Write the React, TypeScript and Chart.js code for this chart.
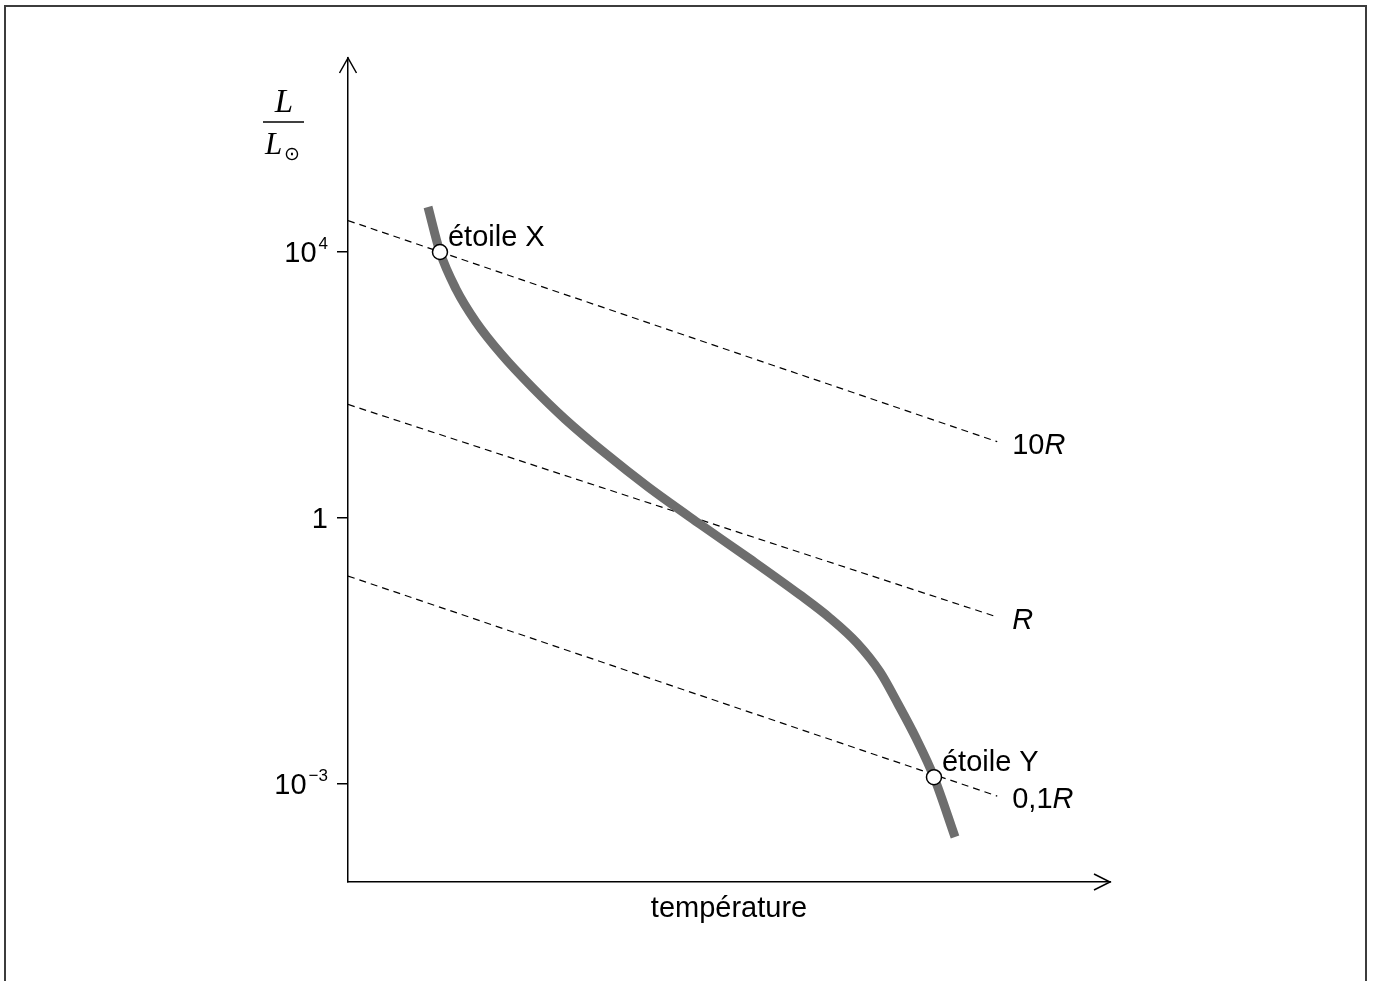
import React, { useEffect, useRef } from 'react';
import { Chart, registerables } from 'chart.js';

Chart.register(...registerables);

// Main-sequence-like curve (x: temperature, arbitrary units; y: schematic luminosity position)
const curveX = [1.05, 1.207, 1.417, 1.68, 2.021, 2.415, 2.848, 3.373, 3.937, 4.619, 5.276, 5.932, 6.325, 6.68, 6.982, 7.218, 7.454, 7.69, 7.966];
const curveY = [1.169, 1.0, 0.861, 0.737, 0.613, 0.492, 0.372, 0.244, 0.117, -0.023, -0.154, -0.289, -0.376, -0.47, -0.579, -0.699, -0.827, -0.974, -1.199];

// Constant-radius lines
const linePrefix = ['10', '', '0,1'];
const lineSuffix = ['R', 'R', 'R'];
const lineStartX = [0, 0, 0];
const lineStartY = [1.118, 0.427, -0.218];
const lineEndX = [8.52, 8.52, 8.52];
const lineEndY = [0.287, -0.372, -1.045];

// Stars
const starLabels = ['étoile X', 'étoile Y'];
const starX = [1.207, 7.69];
const starY = [1.0, -0.974];

// Y-axis ticks (schematic positions)
const yTickValues = [-1, 0, 1];
const yTickBase = ['10', '1', '10'];
const yTickExp = ['−3', '', '4'];

const xTitle = 'température';

const SANS = '"Liberation Sans", Arial, sans-serif';
const SERIF = '"Liberation Serif", "DejaVu Serif", serif';

const annotatePlugin = {
  id: 'annotate',
  afterDraw(chart: any) {
    const ctx: CanvasRenderingContext2D = chart.ctx;
    const xs = chart.scales.x;
    const ys = chart.scales.y;
    const { left, right, top, bottom } = chart.chartArea;
    ctx.save();

    // arrow heads
    ctx.strokeStyle = '#000';
    ctx.lineWidth = 1.5;
    ctx.beginPath();
    ctx.moveTo(left - 8.5, top + 15);
    ctx.lineTo(left, top);
    ctx.lineTo(left + 8.5, top + 15);
    ctx.moveTo(right - 16, bottom - 8);
    ctx.lineTo(right, bottom);
    ctx.lineTo(right - 16, bottom + 8);
    ctx.stroke();

    ctx.fillStyle = '#000';
    ctx.textBaseline = 'alphabetic';

    // y tick labels with superscripts
    const labelRight = left - 20;
    yTickValues.forEach((v, i) => {
      const py = ys.getPixelForValue(v);
      ctx.font = `17px ${SANS}`;
      const exp = yTickExp[i];
      const wExp = exp ? ctx.measureText(exp).width : 0;
      ctx.textAlign = 'right';
      if (exp) ctx.fillText(exp, labelRight, py - 3);
      ctx.font = `29px ${SANS}`;
      ctx.fillText(yTickBase[i], labelRight - (exp ? wExp + 2 : 0), py + 10);
    });

    // y axis title: L / L_sun
    ctx.textAlign = 'center';
    ctx.font = `italic 33px ${SERIF}`;
    ctx.fillText('L', left - 64, 112);
    ctx.beginPath();
    ctx.lineWidth = 1.5;
    ctx.moveTo(left - 85, 122);
    ctx.lineTo(left - 44, 122);
    ctx.stroke();
    ctx.textAlign = 'left';
    ctx.font = `italic 31px ${SERIF}`;
    ctx.fillText('L', left - 83, 154);
    ctx.textAlign = 'center';
    ctx.textBaseline = 'middle';
    ctx.font = `19px "DejaVu Sans", sans-serif`;
    ctx.fillText('⊙', left - 56, 155);

    // x axis title
    ctx.textBaseline = 'alphabetic';
    ctx.textAlign = 'center';
    ctx.font = `29px ${SANS}`;
    ctx.fillText(xTitle, (left + right) / 2, bottom + 35);

    // line labels
    ctx.textAlign = 'left';
    ctx.textBaseline = 'middle';
    linePrefix.forEach((pre, i) => {
      let px = xs.getPixelForValue(lineEndX[i]) + 15;
      const py = ys.getPixelForValue(lineEndY[i]) + 4;
      ctx.font = `29px ${SANS}`;
      if (pre) {
        ctx.fillText(pre, px, py);
        px += ctx.measureText(pre).width;
      }
      ctx.font = `italic 29px ${SANS}`;
      ctx.fillText(lineSuffix[i], px, py);
    });

    // star labels
    ctx.textBaseline = 'alphabetic';
    ctx.font = `29px ${SANS}`;
    starLabels.forEach((lab, i) => {
      const px = xs.getPixelForValue(starX[i]) + 8;
      const py = ys.getPixelForValue(starY[i]) - 6;
      ctx.fillText(lab, px, py);
    });

    ctx.restore();
  },
};

export default function App() {
  const ref = useRef<HTMLCanvasElement>(null);

  useEffect(() => {
    const canvas = ref.current!;
    const datasets: any[] = [
      {
        label: 'étoiles',
        data: starX.map((x, i) => ({ x, y: starY[i] })),
        showLine: false,
        pointRadius: 7.5,
        pointBackgroundColor: '#ffffff',
        pointBorderColor: '#000000',
        pointBorderWidth: 1.5,
        order: 0,
      },
      {
        label: 'séquence',
        data: curveX.map((x, i) => ({ x, y: curveY[i] })),
        borderColor: '#6e6e6e',
        borderWidth: 9,
        borderCapStyle: 'butt',
        borderJoinStyle: 'round',
        cubicInterpolationMode: 'monotone',
        pointRadius: 0,
        fill: false,
        order: 1,
      },
      ...linePrefix.map((p, i) => ({
        label: p + lineSuffix[i],
        data: [
          { x: lineStartX[i], y: lineStartY[i] },
          { x: lineEndX[i], y: lineEndY[i] },
        ],
        borderColor: '#000000',
        borderWidth: 1.2,
        borderDash: [7, 5],
        pointRadius: 0,
        fill: false,
        order: 2,
      })),
    ];

    const chart = new Chart(canvas, {
      type: 'line',
      data: { datasets },
      options: {
        animation: false,
        responsive: false,
        events: [],
        layout: { padding: { left: 0, right: 263, top: 58, bottom: 39 } },
        plugins: { legend: { display: false }, tooltip: { enabled: false } },
        scales: {
          x: {
            type: 'linear',
            min: 0,
            max: 10,
            grid: { display: false },
            ticks: { display: false },
            border: { display: true, color: '#000', width: 1.5 },
            afterFit: (scale: any) => {
              scale.height = 60;
            },
          },
          y: {
            type: 'linear',
            min: -1.368,
            max: 1.729,
            afterBuildTicks: (scale: any) => {
              scale.ticks = yTickValues.map((v) => ({ value: v }));
            },
            ticks: { display: false },
            grid: {
              display: true,
              drawOnChartArea: false,
              drawTicks: true,
              tickLength: 11,
              color: '#000',
              lineWidth: 1.5,
            },
            border: { display: true, color: '#000', width: 1.5 },
            afterFit: (scale: any) => {
              scale.width = 348;
            },
          },
        },
      },
      plugins: [annotatePlugin],
    } as any);

    return () => chart.destroy();
  }, []);

  return (
    <>
      <div
        style={{
          position: 'fixed',
          left: 4,
          top: 5,
          width: 1359,
          height: 1010,
          border: '2px solid #3c3c3c',
          boxSizing: 'content-box',
        }}
      />
      <canvas
        ref={ref}
        width={1373}
        height={981}
        style={{ position: 'fixed', left: 0, top: 0, width: 1373, height: 981 }}
      />
    </>
  );
}
